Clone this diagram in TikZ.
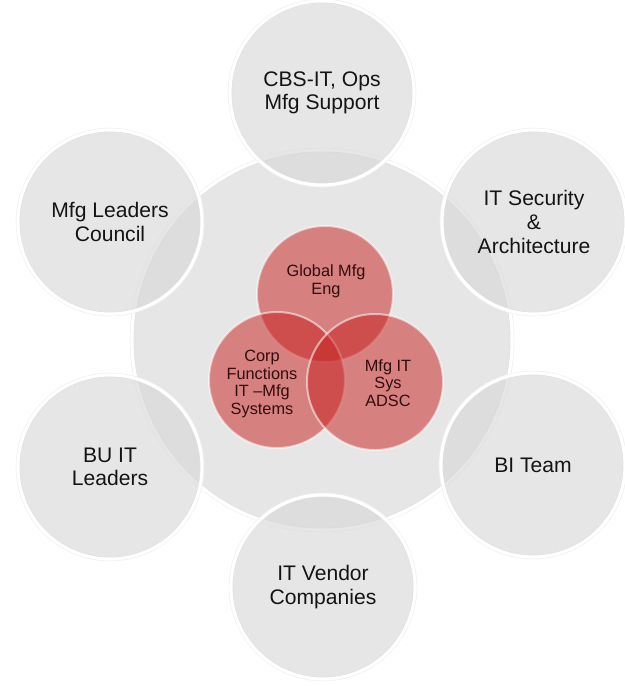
\documentclass[tikz,border=0pt]{standalone}
\usepackage{fontspec}
\setmainfont{Liberation Sans}
\definecolor{ringgray}{RGB}{214,214,214}
\definecolor{corered}{RGB}{200,35,35}
\definecolor{coretext}{RGB}{50,12,12}
\definecolor{outertext}{RGB}{20,20,20}

\begin{document}
\begin{tikzpicture}[
	x=0.025cm,
	y=-0.025cm,
	hub/.style={
		circle,
		fill=ringgray,
		fill opacity=0.6,
		draw=white,
		line width=2.2pt,
		preaction={draw=black!6, line width=3.2pt},
		minimum size=9.5cm,
		inner sep=0pt
	},
	sat/.style={
		hub,
		minimum size=4.6cm,
		align=center,
		text opacity=1,
		text=outertext,
		font=\fontsize{15}{16.8}\selectfont
	},
	core/.style={
		circle,
		fill=corered,
		fill opacity=0.52,
		draw=white,
		draw opacity=0.55,
		line width=1.4pt,
		minimum size=3.4cm,
		inner sep=0pt
	},
	coretxt/.style={
		align=center,
		text=coretext,
		font=\fontsize{11.6}{12.6}\selectfont
	}
	]
	\useasboundingbox (0,0) rectangle (625,686);

	% big ring in the middle
	\node[hub] (hub) at (322,340) {};

	% outer circles
	\node[sat] (cbs) at (322,93) {CBS-IT,\ Ops\\Mfg\ Support};
	\node[sat] (itsec) at (534,222) {IT Security\\\&\\Architecture};
	\node[sat] (bi) at (533,465) {BI Team};
	\node[sat] (vendor) at (323,587) {IT Vendor\\Companies};
	\node[sat] (buit) at (110,467) {BU\ IT\\Leaders};
	\node[sat] (council) at (110,222) {Mfg\ Leaders\\Council};

	% three red circles
	\node[core] (global) at (325,294) {};
	\node[core] (corp) at (277,380) {};
	\node[core] (mfgit) at (375,382) {};

	\node[coretxt] (globaltxt) at (326,281) {Global Mfg\\Eng};
	\node[coretxt] (corptxt) at (262,384) {Corp\\Functions\\IT --Mfg\\Systems};
	\node[coretxt] (mfgittxt) at (388,383) {Mfg IT\\Sys\\ADSC};
\end{tikzpicture}
\end{document}
